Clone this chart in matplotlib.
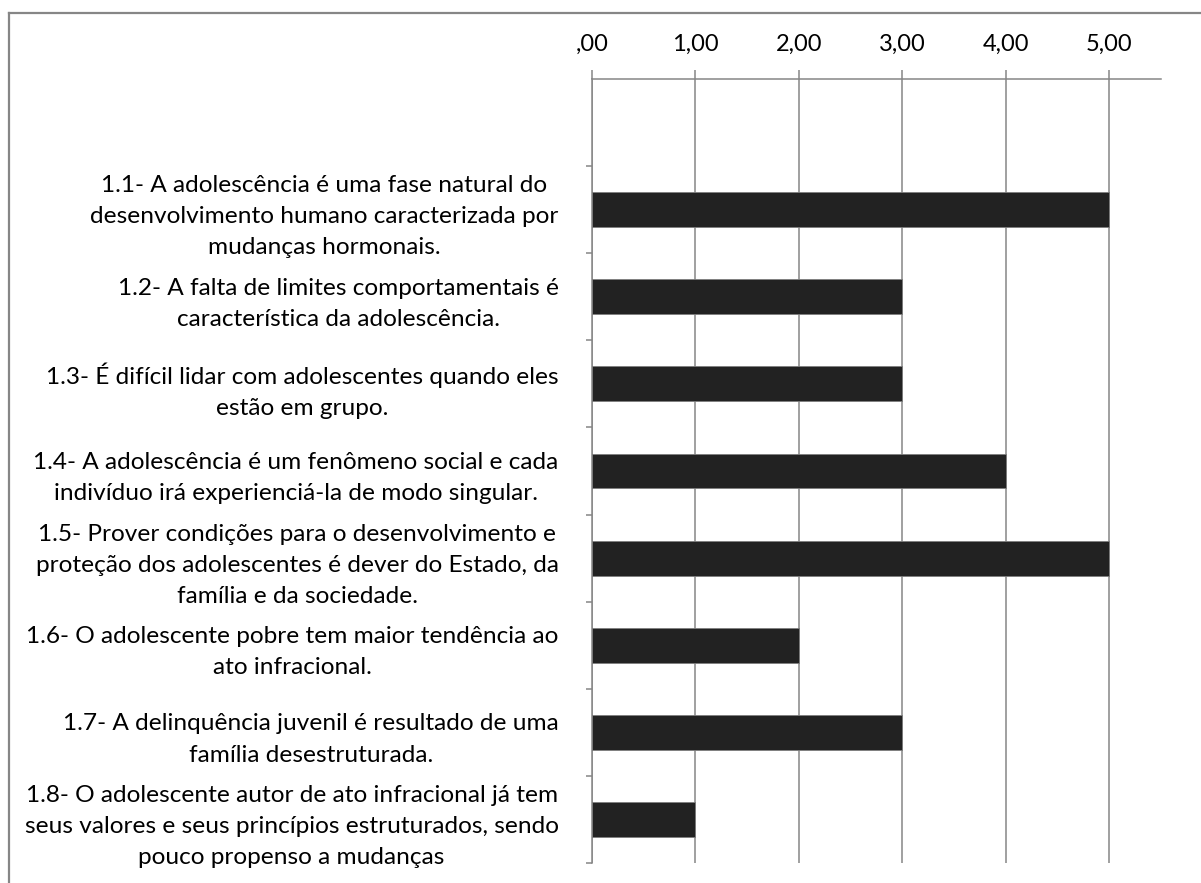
import matplotlib
matplotlib.use("Agg")
import matplotlib.pyplot as plt
from matplotlib.lines import Line2D

# dados
labels = [
    "1.1- A adolescência é uma fase natural do\ndesenvolvimento humano caracterizada por\nmudanças hormonais.",
    "1.2- A falta de limites comportamentais é\ncaracterística da adolescência.",
    "1.3- É difícil lidar com adolescentes quando eles\nestão em grupo.",
    "1.4- A adolescência é um fenômeno social e cada\nindivíduo irá experienciá-la de modo singular.",
    "1.5- Prover condições para o desenvolvimento e\nproteção dos adolescentes é dever do Estado, da\nfamília e da sociedade.",
    "1.6- O adolescente pobre tem maior tendência ao\nato infracional.",
    "1.7- A delinquência juvenil é resultado de uma\nfamília desestruturada.",
    "1.8- O adolescente autor de ato infracional já tem\nseus valores e seus princípios estruturados, sendo\npouco propenso a mudanças",
]
values = [5, 3, 3, 4, 5, 2, 3, 1]
xticks = [0, 1, 2, 3, 4, 5]
xtick_labels = [",00", "1,00", "2,00", "3,00", "4,00", "5,00"]

grey = "#868686"
plt.rcParams["font.family"] = ["Lato", "DejaVu Sans"]

fig = plt.figure(figsize=(12.01, 8.83), dpi=100)
ax = fig.add_axes([592 / 1201, 1 - 863 / 883, (1161 - 592) / 1201, (863 - 79) / 883])

# posicao 0 fica vazia (como no original)
ypos = list(range(1, len(labels) + 1))
ax.barh(ypos, values, height=0.4, color="#222222", edgecolor="#7f7f7f", linewidth=0.6, zorder=3)

ax.set_xlim(0, 5.5)
ax.set_ylim(len(labels) + 0.5, -0.5)

ax.xaxis.tick_top()
ax.set_xticks(xticks)
ax.set_xticklabels(xtick_labels, fontsize=17)
ax.tick_params(axis="x", direction="out", length=6.5, width=1.1, color=grey, pad=11)
ax.grid(axis="x", color=grey, linewidth=1.1, zorder=0)

ax.set_yticks(ypos)
ax.set_yticklabels(labels, fontsize=17.6, linespacing=1.6)
for t in ax.get_yticklabels():
    t.set_multialignment("center")
ax.tick_params(axis="y", which="major", length=0, pad=24)
ax.set_yticks([y + 0.5 for y in range(len(labels) + 1)], minor=True)
ax.tick_params(axis="y", which="minor", direction="out", length=4.5, width=1.1, color=grey)

for s in ["right", "bottom"]:
    ax.spines[s].set_visible(False)
for s in ["top", "left"]:
    ax.spines[s].set_color(grey)
    ax.spines[s].set_linewidth(1.1)

# moldura
fig.add_artist(Line2D([9 / 1201, 9 / 1201], [0, 1 - 13 / 883], color=grey, linewidth=1.6))
fig.add_artist(Line2D([9 / 1201, 1], [1 - 13 / 883, 1 - 13 / 883], color=grey, linewidth=1.6))

fig.savefig("out.png", dpi=100)
